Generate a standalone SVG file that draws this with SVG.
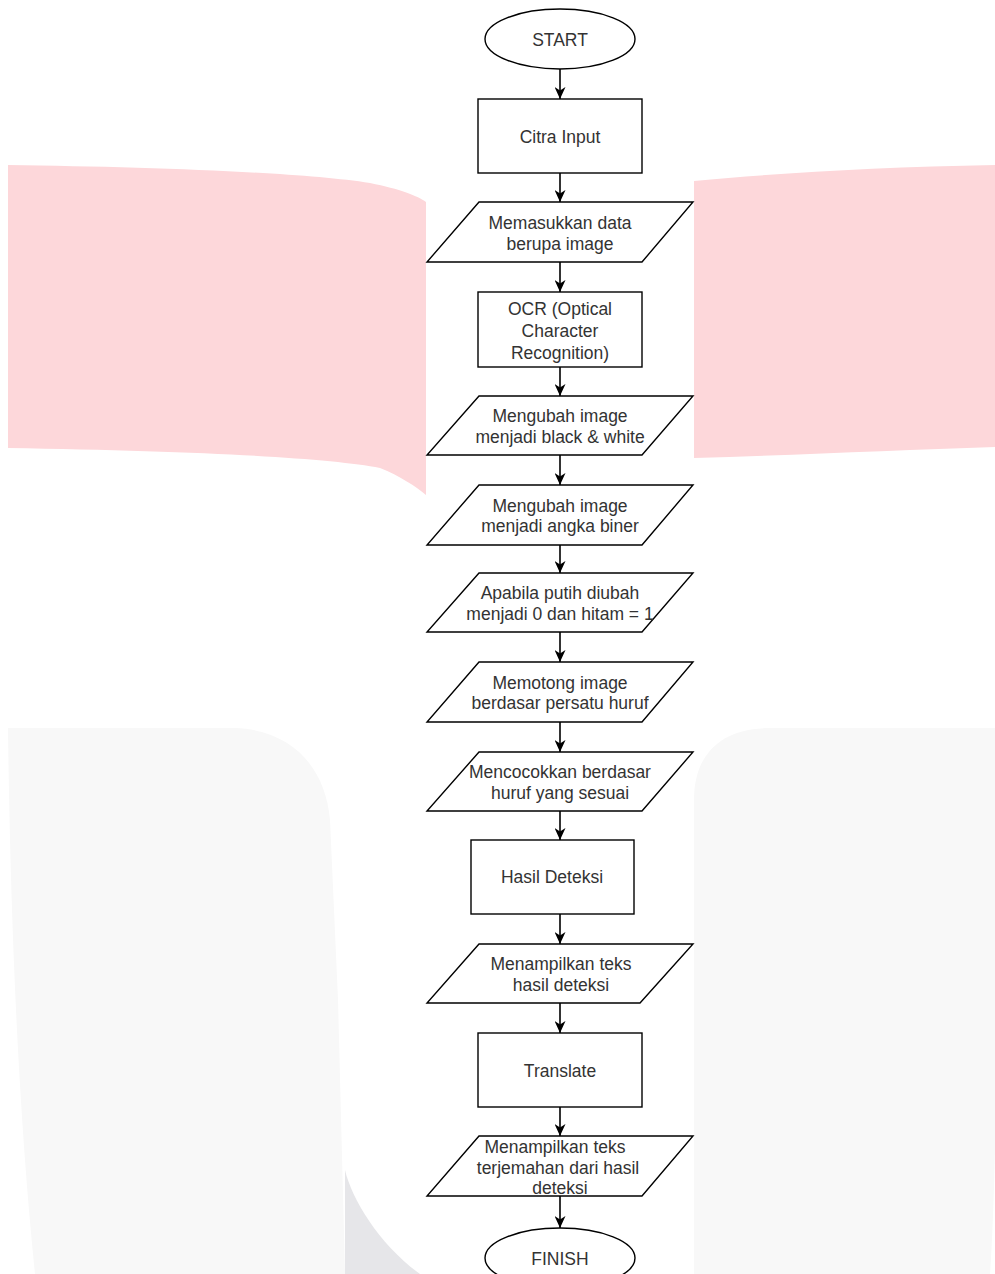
<svg xmlns="http://www.w3.org/2000/svg" width="995" height="1274" viewBox="0 0 995 1274">
<defs>
<style>
.pink{fill:#fdd7da}
.gray{fill:#f8f8f8}
.gray2{fill:#e6e6e9}
.shape{fill:#ffffff;stroke:#000000;stroke-width:1.4}
.edge{fill:none;stroke:#000000;stroke-width:1.6;marker-end:url(#arrow)}
.lbl{font-family:"Liberation Sans",Arial,Helvetica,sans-serif;font-size:17.5px;fill:#333333;text-anchor:middle}
</style>
<marker id="arrow" markerUnits="userSpaceOnUse" viewBox="0 0 12 11" refX="12" refY="5.5" markerWidth="12" markerHeight="11" orient="auto">
<path d="M0,0 L12,5.5 L0,11 L3.5,5.5 Z" fill="#000000"/>
</marker>
</defs>
<rect x="0" y="0" width="995" height="1274" fill="#ffffff"/>
<g id="background">
<path class="pink" d="M8,165 C150,167 300,172 370,183 C400,189 418,196 426,202 L426,495 C415,486 400,476 380,468 C330,458 200,451 8,448 Z"/>
<path class="pink" d="M694,181 C780,173 880,167 995,165 L995,447 C900,450 800,455 694,458 Z"/>
<path class="gray" d="M8,728 L235,728 C290,730 325,765 330,820 L338,1000 L345,1274 L35,1274 Q12,1050 8,728 Z"/>
<path class="gray2" d="M345,1170 C352,1200 380,1245 420,1274 L345,1274 Z"/>
<path class="gray" d="M694,1274 L694,800 C694,755 720,728 770,728 L995,728 L995,1150 Q993,1230 990,1274 Z"/>
</g>
<g id="connectors">
<line class="edge" x1="560" y1="69" x2="560" y2="99"/>
<line class="edge" x1="560" y1="173" x2="560" y2="202"/>
<line class="edge" x1="560" y1="262" x2="560" y2="292"/>
<line class="edge" x1="560" y1="367" x2="560" y2="396"/>
<line class="edge" x1="560" y1="455" x2="560" y2="485"/>
<line class="edge" x1="560" y1="545" x2="560" y2="573"/>
<line class="edge" x1="560" y1="632" x2="560" y2="662"/>
<line class="edge" x1="560" y1="722" x2="560" y2="752"/>
<line class="edge" x1="560" y1="811" x2="560" y2="840"/>
<line class="edge" x1="560" y1="914" x2="560" y2="944"/>
<line class="edge" x1="560" y1="1003" x2="560" y2="1033"/>
<line class="edge" x1="560" y1="1107" x2="560" y2="1136"/>
<line class="edge" x1="560" y1="1196" x2="560" y2="1228"/>
</g>
<g id="start">
<ellipse class="shape" cx="560" cy="39" rx="75" ry="30"/>
<text class="lbl" x="560" y="46">START</text>
</g>
<g id="citra-input">
<rect class="shape" x="478" y="99" width="164" height="74"/>
<text class="lbl" x="560" y="143">Citra Input</text>
</g>
<g id="memasukkan">
<polygon class="shape" points="479,202 693,202 642,262 427,262"/>
<text class="lbl" x="560" y="229">Memasukkan data</text>
<text class="lbl" x="560" y="249.5">berupa image</text>
</g>
<g id="ocr">
<rect class="shape" x="478" y="292" width="164" height="75"/>
<text class="lbl" x="560" y="315">OCR (Optical</text>
<text class="lbl" x="560" y="337">Character</text>
<text class="lbl" x="560" y="359">Recognition)</text>
</g>
<g id="black-white">
<polygon class="shape" points="479,396 693,396 642,455 427,455"/>
<text class="lbl" x="560" y="422">Mengubah image</text>
<text class="lbl" x="560" y="442.5">menjadi black &amp; white</text>
</g>
<g id="angka-biner">
<polygon class="shape" points="479,485 693,485 642,545 427,545"/>
<text class="lbl" x="560" y="511.5">Mengubah image</text>
<text class="lbl" x="560" y="532">menjadi angka biner</text>
</g>
<g id="apabila">
<polygon class="shape" points="479,573 693,573 642,632 427,632"/>
<text class="lbl" x="560" y="599">Apabila putih diubah</text>
<text class="lbl" x="560" y="619.5">menjadi 0 dan hitam = 1</text>
</g>
<g id="memotong">
<polygon class="shape" points="479,662 693,662 642,722 427,722"/>
<text class="lbl" x="560" y="688.5">Memotong image</text>
<text class="lbl" x="560" y="709">berdasar persatu huruf</text>
</g>
<g id="mencocokkan">
<polygon class="shape" points="479,752 693,752 642,811 427,811"/>
<text class="lbl" x="560" y="778">Mencocokkan berdasar</text>
<text class="lbl" x="560" y="798.5">huruf yang sesuai</text>
</g>
<g id="hasil-deteksi">
<rect class="shape" x="471" y="840" width="163" height="74"/>
<text class="lbl" x="552" y="883">Hasil Deteksi</text>
</g>
<g id="menampilkan-deteksi">
<polygon class="shape" points="479,944 693,944 640,1003 427,1003"/>
<text class="lbl" x="561" y="970">Menampilkan teks</text>
<text class="lbl" x="561" y="990.5">hasil deteksi</text>
</g>
<g id="translate">
<rect class="shape" x="478" y="1033" width="164" height="74"/>
<text class="lbl" x="560" y="1077">Translate</text>
</g>
<g id="menampilkan-terjemahan">
<polygon class="shape" points="479,1136 693,1136 642,1196 427,1196"/>
<text class="lbl" x="555" y="1153">Menampilkan teks</text>
<text class="lbl" x="558" y="1173.5">terjemahan dari hasil</text>
<text class="lbl" x="560" y="1194">deteksi</text>
</g>
<g id="finish">
<ellipse class="shape" cx="560" cy="1258" rx="75" ry="30"/>
<text class="lbl" x="560" y="1265">FINISH</text>
</g>
</svg>
